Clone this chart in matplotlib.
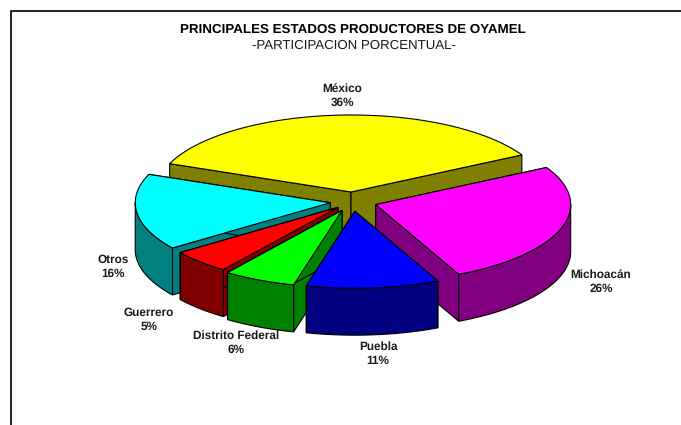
import numpy as np
import matplotlib as mpl
mpl.use('Agg')
import matplotlib.pyplot as plt
from matplotlib.patches import Polygon
plt.rcParams['font.family'] = ['Liberation Sans', 'DejaVu Sans']
plt.rcParams['text.hinting'] = 'no_hinting'

# clockwise from the back, same order as the source chart
names = ['México', 'Michoacán', 'Puebla', 'Distrito Federal', 'Guerrero', 'Otros']
values = [36, 26, 11, 6, 5, 16]
top_colors = ['#ffff00', '#ff00ff', '#0000ff', '#00ff00', '#ff0000', '#00ffff']
side_colors = ['#808000', '#800080', '#000080', '#008000', '#800000', '#008080']
label_xy = [(342, 95.5), (601, 281.5), (378, 353.5), (236, 342.5), (149, 320), (113, 266.5)]
explode = [0.125, 0.125, 0.125, 0.125, 0.105, 0.115]

# pie geometry in pixels
cx = 352.5; cy = 201.6; a = 195.; b = 77.; depth = 47.
start = 28.8 + 129.6   # left edge of the first slice, going clockwise
draw_order = [0, 1, 5, 4, 3, 2]

fig = plt.figure(figsize=(6.81, 4.25), dpi=100)
ax = fig.add_axes([0, 0, 1, 1])
ax.set_xlim(0, 681); ax.set_ylim(425, 0); ax.axis('off')

# slice angles from the values
edges = start - np.cumsum([0] + values) * 3.6

def rim(ox, oy, t1, t2, dz=0.):
	t = np.radians(np.linspace(t1, t2, 80))
	return np.c_[ox + a * np.cos(t), oy - b * np.sin(t) + dz]

for i in draw_order:
	hi = edges[i]; lo = edges[i + 1]
	mid = np.radians((hi + lo) / 2)
	ox = cx + explode[i] * a * np.cos(mid); oy = cy - explode[i] * b * np.sin(mid)
	# cut faces
	for t in [hi, lo]:
		p = rim(ox, oy, t, t)[0]
		face = [(ox, oy), p, (p[0], p[1] + depth), (ox, oy + depth)]
		ax.add_patch(Polygon(face, fc=side_colors[i], ec='k', lw=0.8))
	# outer wall, front half only
	for k in [0, -1]:
		t1 = max(lo, 180 + 360 * k); t2 = min(hi, 360 + 360 * k)
		if t2 > t1:
			wall = np.r_[rim(ox, oy, t1, t2), rim(ox, oy, t2, t1, depth)]
			ax.add_patch(Polygon(wall, fc=side_colors[i], ec='k', lw=0.8))
	top = np.r_[[(ox, oy)], rim(ox, oy, lo, hi)]
	ax.add_patch(Polygon(top, fc=top_colors[i], ec='k', lw=0.8))

for n, v, (x, y) in zip(names, values, label_xy):
	ax.text(x, y, n + '\n' + str(v) + '%', ha='center', va='center', fontsize=8.5,
		fontweight='bold', color='#1a1a1a', linespacing=1.32)

ax.text(353, 29.5, 'PRINCIPALES ESTADOS PRODUCTORES DE OYAMEL', ha='center', va='center',
	fontsize=9.6, fontweight='bold', color='k')
ax.text(354, 45.5, '-PARTICIPACION PORCENTUAL-', ha='center', va='center', fontsize=9.5, color='#1a1a1a')

# chart frame, cut off at the right and bottom of the picture
ax.plot([11, 11, 681], [425, 10.7, 10.7], color='#111111', lw=1.3, clip_on=False)

fig.savefig('out.png', dpi=100)
